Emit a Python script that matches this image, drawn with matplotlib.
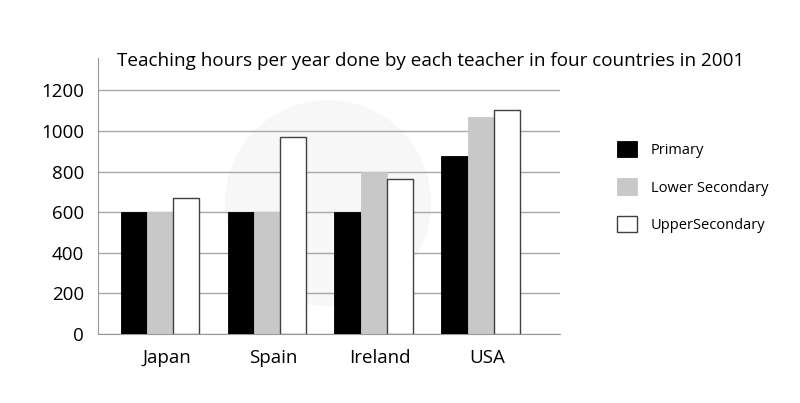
import matplotlib
matplotlib.use("Agg")
import matplotlib.pyplot as plt
from matplotlib.patches import Ellipse
import numpy as np

plt.rcParams['font.family'] = ['Open Sans', 'DejaVu Sans']

# data
countries = ["Japan", "Spain", "Ireland", "USA"]
primary = [600, 600, 600, 875]
lower_secondary = [600, 600, 800, 1070]
upper_secondary = [670, 970, 765, 1105]
series_names = ["Primary", "Lower Secondary", "UpperSecondary"]
title = "Teaching hours per year done by each teacher in four countries in 2001"

fig = plt.figure(figsize=(8, 4.03), dpi=100)
ax = fig.add_axes([98 / 800, 1 - 334 / 403, 462 / 800, 276 / 403])
ax.patch.set_visible(False)

# faint watermark circle behind the plot
fig.patches.append(Ellipse((328 / 800, 1 - 203 / 403), 206 / 800, 206 / 403,
                           transform=fig.transFigure, facecolor="#f7f7f7",
                           edgecolor="none", zorder=-5))

x = np.arange(len(countries))
w = 0.246
b1 = ax.bar(x - w, primary, w, color="black", edgecolor="black", linewidth=0.6, zorder=3)
b2 = ax.bar(x, lower_secondary, w, color="#c8c8c8", edgecolor="#c8c8c8", linewidth=0.6, zorder=3)
b3 = ax.bar(x + w, upper_secondary, w, color="white", edgecolor="#404040", linewidth=1.0, zorder=3)

ax.set_xlim(-0.58, 3.74)
ax.set_ylim(0, 1360)
ax.set_yticks(range(0, 1201, 200))
ax.yaxis.grid(True, color="#a8a8a8", linewidth=1.0, zorder=0)
ax.set_axisbelow(True)
ax.set_xticks(x + 0.06)
ax.set_xticklabels(countries)
ax.tick_params(axis="both", length=0, labelsize=13.5, colors="black")
ax.tick_params(axis="x", pad=11)
ax.tick_params(axis="y", pad=10)
for s in ["top", "right"]:
    ax.spines[s].set_visible(False)
ax.spines["left"].set_color("#999999")
ax.spines["bottom"].set_color("#999999")

fig.text(431 / 800, 1 - 61 / 403, title, ha="center", va="center", fontsize=13.6)

fig.legend([b1, b2, b3], series_names, loc="upper left",
           bbox_to_anchor=(617 / 800, 1 - 141 / 403), frameon=False,
           fontsize=10.5, handlelength=1.35, handleheight=1.35,
           labelspacing=1.4, handletextpad=0.95, borderpad=0, borderaxespad=0)

fig.savefig("out.png", dpi=100)
